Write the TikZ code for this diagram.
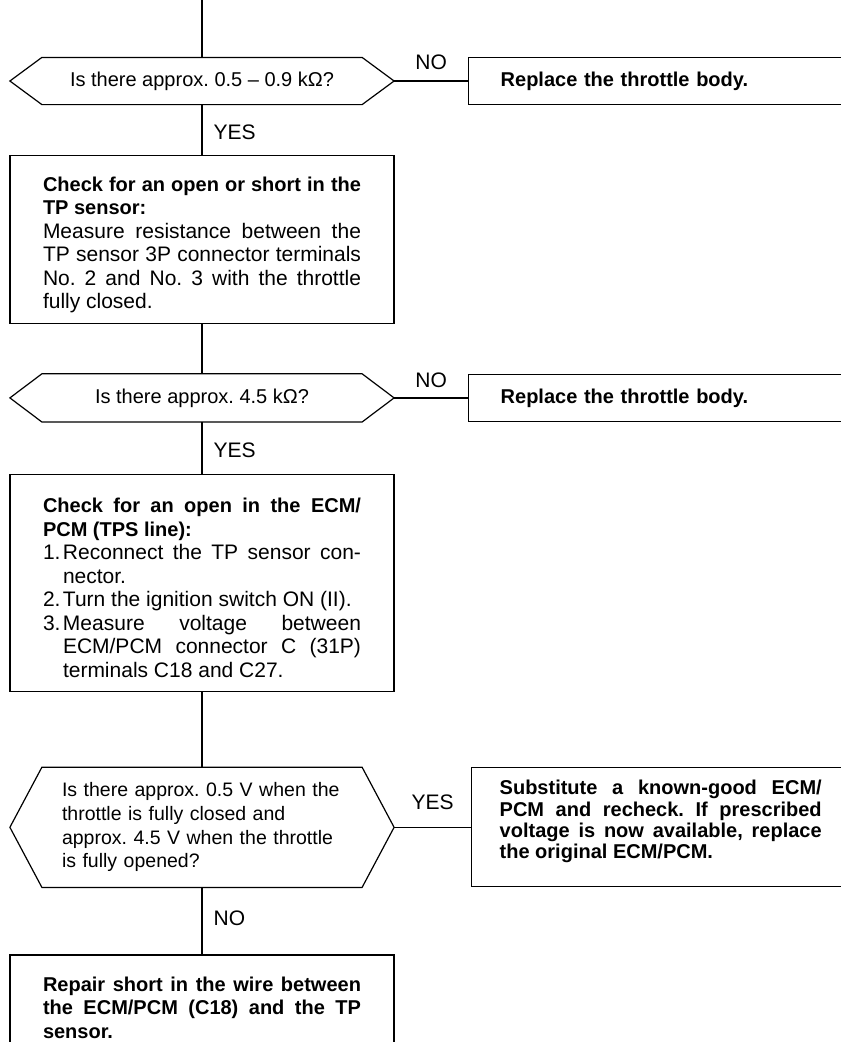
\documentclass[tikz,border=0pt]{standalone}
\usepackage{fontspec}
\setmainfont{Liberation Sans}
\usepackage{tikz}
\usetikzlibrary{positioning}
\frenchspacing
\tolerance=10000
\hbadness=10000

% hexagon round a decision node: node name, depth of the points
\newcommand{\hexpath}[2]{%
  \draw (#1.west) -- ([xshift=#2]#1.north west) -- ([xshift=-#2]#1.north east)
    -- (#1.east) -- ([xshift=-#2]#1.south east) -- ([xshift=#2]#1.south west) -- cycle;}
\newcommand{\hd}[1]{{\fontsize{20}{23.5}\selectfont\bfseries #1}}
\newcommand{\numline}[2]{\par\hangindent=20pt\hangafter=1\noindent\makebox[20pt][l]{#1}#2\par}

\begin{document}
\begin{tikzpicture}[x=1pt, y=-1pt, line width=1.2pt,
    decision/.style={rectangle, inner sep=0pt, minimum width=383pt, font=\fontsize{20}{23.7}\selectfont},
    actbox/.style={draw, rectangle, inner xsep=33pt, inner ysep=0pt, text width=318pt, align=justify,
      font=\fontsize{21}{23.5}\selectfont},
    endbox/.style={draw, rectangle, inner xsep=32pt, text width=330pt, minimum height=47pt, align=left,
      font=\fontsize{20}{23.5}\selectfont\bfseries},
    lbl/.style={inner sep=0pt, font=\fontsize{21}{24}\selectfont}]
    \useasboundingbox (0,0) rectangle (841,1042);
    \clip (0,0) rectangle (841,1042);

    % Nodes
    \coordinate (start) at (202,0);
    \node [decision, minimum height=46pt] (q1) at (202,81) {Is there approx. 0.5 – 0.9 kΩ?};
    \node [endbox, right=74pt of q1] (r1) {Replace the throttle body.};
    \node [actbox, below=50pt of q1, text height=36pt, text depth=132pt] (b2) {%
      \hd{Check for an open or short in the\linebreak TP sensor:}\par
      Measure resistance between the\linebreak TP sensor 3P connector terminals\linebreak
      No.~2 and No.~3 with the throttle\linebreak fully closed.};
    \node [decision, minimum height=47pt, below=50pt of b2] (q2) {Is there approx. 4.5 kΩ?};
    \node [endbox, right=74pt of q2] (r2) {Replace the throttle body.};
    \node [actbox, below=52pt of q2, text height=38pt, text depth=179pt] (b3) {%
      \hd{Check for an open in the ECM/\linebreak PCM (TPS line):}\par
      \numline{1.}{Reconnect the TP sensor con-\linebreak nector.}
      \numline{2.}{Turn the ignition switch ON (II).}
      \numline{3.}{Measure voltage between\linebreak ECM/PCM connector C (31P)\linebreak terminals C18 and C27.}};
    \node [decision, minimum height=119pt, text width=280pt, align=left, below=75pt of b3,
      font=\fontsize{19.5}{23.7}\selectfont] (q3) {%
      Is there approx. 0.5 V when the\\ throttle is fully closed and\\
      approx. 4.5 V when the throttle\\ is fully opened?};
    \node [actbox, right=77pt of q3, inner xsep=28pt, text width=322pt, text height=27pt, text depth=92pt,
      font=\fontsize{20}{21.3}\selectfont\bfseries] (r3) {%
      Substitute a known-good ECM/\linebreak PCM and recheck. If prescribed\linebreak
      voltage is now available, replace\linebreak the original ECM/PCM.};
    \node [actbox, below=67pt of q3, text height=36pt, text depth=110pt] (b4) {%
      \hd{Repair short in the wire between\linebreak the ECM/PCM (C18) and the TP\linebreak sensor.}};

    % Hexagons
    \hexpath{q1}{32pt}
    \hexpath{q2}{32pt}
    \hexpath{q3}{32pt}

    % Lines
    \draw (start) -- (q1.north);
    \draw (q1.east) -- node [lbl, above=11pt] (no1) {NO} (r1.west);
    \draw (q1.south) -- node [lbl, right=11pt, pos=0.55] (yes1) {YES} (b2.north);
    \draw (b2.south) -- (q2.north);
    \draw (q2.east) -- node [lbl, above=10pt] (no2) {NO} (r2.west);
    \draw (q2.south) -- node [lbl, right=11pt, pos=0.55] (yes2) {YES} (b3.north);
    \draw (b3.south) -- (q3.north);
    \draw (q3.east) -- node [lbl, above=17pt] (yes3) {YES} (r3.west);
    \draw (q3.south) -- node [lbl, right=11pt, pos=0.46] (no3) {NO} (b4.north);
\end{tikzpicture}
\end{document}
